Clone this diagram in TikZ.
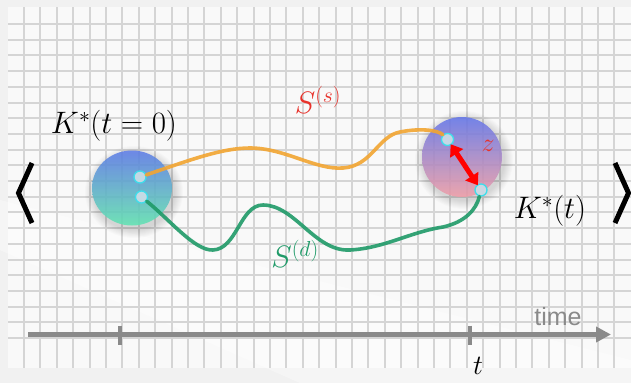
\RequirePackage{fix-cm}
\documentclass[tikz,border=0pt]{standalone}
\usepackage{fontspec}
\newfontfamily\timefont{Liberation Sans}
\usetikzlibrary{arrows.meta,shapes.geometric}
\definecolor{bgc}{HTML}{F1F1F1}
\definecolor{cellc}{HTML}{F9F9F9}
\definecolor{gridc}{HTML}{D5D5D5}
\definecolor{orc}{HTML}{F2A531}
\definecolor{grc}{HTML}{1F9A68}
\definecolor{redc}{HTML}{E8322B}
\definecolor{axc}{HTML}{8A8A8A}
\definecolor{dotc}{HTML}{C9DCE6}
\definecolor{cyanc}{HTML}{3EDDEB}
\tikzset{
  gridline/.style={draw=gridc, line width=2pt},
  blobshadow/.style={fill=black, opacity=0.015},
  dotnode/.style={circle, minimum size=12pt, inner sep=0pt, fill=dotc, draw=cyanc, line width=1.3pt, fill opacity=0.95},
  curveo/.style={draw=orc, line width=3.6pt, line cap=round, opacity=0.9},
  curveg/.style={draw=grc, line width=3.6pt, line cap=round, opacity=0.9},
  mathlbl/.style={inner sep=0pt, font=\fontsize{31}{34}\selectfont},
  bracket/.style={draw=black, line width=5pt, line join=miter},
  axisline/.style={draw=axc, line width=5pt},
  tickline/.style={draw=axc, line width=4pt},
}
\begin{document}
\begin{tikzpicture}[x=1pt,y=-1pt]
\useasboundingbox (0,0) rectangle (631,383);
\fill[bgc] (0,0) rectangle (631,383);
\fill[cellc] (8,7) rectangle (631,368);
\fill[white, opacity=0.35] (0,250) -- (300,383) -- (631,383) -- (631,360) -- (0,200) -- cycle;
% grid
\foreach \k in {0,...,36} \draw[gridline] ({24+16.4*\k},7) -- ({24+16.4*\k},368);
\foreach \k in {0,...,20} \draw[gridline] (8,{24+15.7*\k}) -- (631,{24+15.7*\k});
% shadows
\foreach \r in {1,...,9} \fill[blobshadow] (134,192) ellipse ({40pt+\r pt} and {37pt+\r pt});
\foreach \r in {1,...,9} \fill[blobshadow] (464,160) circle ({40pt+\r pt});
% blobs
\node[ellipse, minimum width=80pt, minimum height=75pt, inner sep=0pt] (lb) at (132,188) {};
\shade[top color={rgb,255:red,95;green,125;blue,232}, middle color={rgb,255:red,78;green,185;blue,220}, bottom color={rgb,255:red,98;green,228;blue,178}, fill opacity=0.88] (132,188) ellipse (40pt and 37.5pt);
\node[circle, minimum size=80pt, inner sep=0pt] (rb) at (462,157) {};
\shade[top color={rgb,255:red,102;green,120;blue,234}, middle color={rgb,255:red,184;green,142;blue,214}, bottom color={rgb,255:red,240;green,158;blue,168}, fill opacity=0.88] (462,157) circle (40pt);
% dots
\node[dotnode] (ls) at (140,177) {};
\node[dotnode] (ld) at (141.5,197) {};
\node[dotnode] (rs) at (447.5,139.5) {};
\node[dotnode] (rd) at (481,190) {};
% curves
\draw[curveo] (ls) .. controls (190,160) and (222,148) .. (250,148)
  .. controls (285,148) and (315,170) .. (343,168)
  .. controls (372,166) and (378,136) .. (400,132)
  .. controls (420,128) and (438,130) .. (rs);
\draw[curveg] (ld) .. controls (170,220) and (195,251) .. (213,250)
  .. controls (237,249) and (240,205) .. (263,205)
  .. controls (295,205) and (315,252) .. (350,250)
  .. controls (385,248) and (410,232) .. (443,227)
  .. controls (465,222) and (476,210) .. (rd);
% red double arrow
\draw[draw=red, line width=5pt, {Triangle[length=11pt,width=15pt]}-{Triangle[length=11pt,width=15pt]}, shorten <=-1pt, shorten >=-1pt] (rs) -- (rd);
% labels
\node[mathlbl] (k0) at (114,126) {$K^{*}(t=0)$};
\node[mathlbl, text=redc] (ss) at (318,100) {$S^{(s)}$};
\node[mathlbl, text=grc] (sd) at (295,254) {$S^{(d)}$};
\node[mathlbl, text=redc, font=\fontsize{26}{28}\selectfont] (zl) at (488,146) {$z$};
\node[mathlbl] (kt) at (550,211) {$K^{*}(t)$};
% brackets
\coordinate (lbt) at (32,163);
\coordinate (lbv) at (18.5,193);
\coordinate (lbb) at (32,223);
\coordinate (rbt) at (615,163);
\coordinate (rbv) at (628.5,193);
\coordinate (rbb) at (615,223);
\draw[bracket] (lbt) -- (lbv) -- (lbb);
\draw[bracket] (rbt) -- (rbv) -- (rbb);
% time axis
\coordinate (axs) at (28,334.5);
\coordinate (axe) at (611,334.5);
\draw[axisline, -{Triangle[length=15pt,width=15pt]}] (axs) -- (axe);
\coordinate (t0a) at (120,325.5);
\coordinate (t0b) at (120,345);
\coordinate (t1a) at (469.5,325.5);
\coordinate (t1b) at (469.5,345);
\draw[tickline] (t0a) -- (t0b);
\draw[tickline] (t1a) -- (t1b);
\node[inner sep=0pt, text=axc, font=\timefont\fontsize{25}{28}\selectfont] (tm) at (558,317) {time};
\node[mathlbl, font=\fontsize{28}{30}\selectfont] (tl) at (478,366) {$t$};
\end{tikzpicture}
\end{document}
